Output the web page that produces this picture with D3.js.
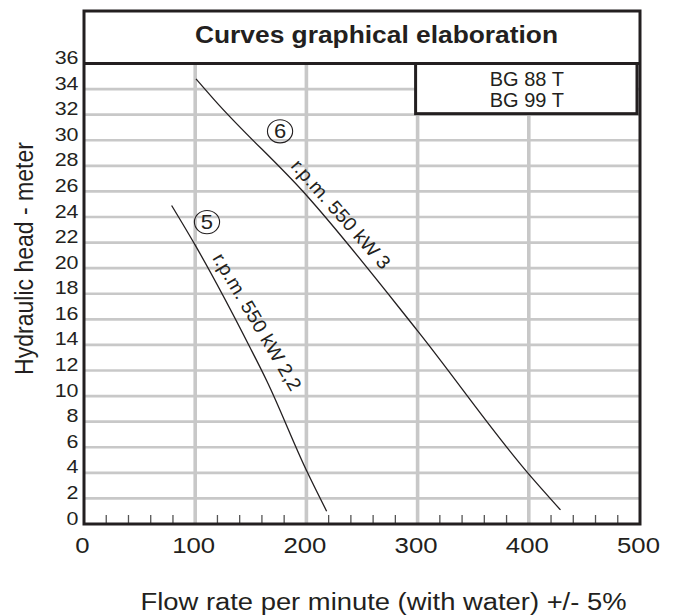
<!DOCTYPE html>
<html>
<head>
<meta charset="utf-8">
<script src="https://cdn.jsdelivr.net/npm/d3@7"></script>
<style>
  html, body { margin: 0; padding: 0; background: #fff; }
  svg { display: block; }
  text { font-family: "Liberation Sans", Arial, Helvetica, sans-serif; fill: #231f20; }
</style>
</head>
<body>
<svg id="chart" width="681" height="616"></svg>
<script>
// ---------- data ----------
const title = "Curves graphical elaboration";
const legendLines = ["BG 88 T", "BG 99 T"];
const xTitle = "Flow rate per minute (with water) +/- 5%";
const yTitle = "Hydraulic head - meter";
const xTicks = [0, 100, 200, 300, 400, 500];
const yTicks = [0, 2, 4, 6, 8, 10, 12, 14, 16, 18, 20, 22, 24, 26, 28, 30, 32, 34, 36];
const minorTicks = [20, 40, 60, 80, 120, 140, 160, 180, 220, 240, 260, 280, 320, 340, 360, 380, 420, 440, 460, 480];
// curve "6": r.p.m. 550 kW 3
const curve6 = [[100.7, 34.8], [117.8, 33.1], [200, 25.7], [300, 15.1], [400, 3.9], [428.5, 1.1]];
// curve "5": r.p.m. 550 kW 2,2
const curve5 = [[78.8, 24.9], [100, 21.8], [149.3, 13.8], [164.3, 11.2], [200, 4.2], [218.2, 1.0]];
const circleLabels = [{ t: "6", x: 176.3, y: 30.7 }, { t: "5", x: 110.6, y: 23.6 }];
const curveLabels = [
  { t: "r.p.m. 550 kW 3", x: 185.3, y: 27.95, angle: 48.5, len: 139 },
  { t: "r.p.m. 550 kW 2,2", x: 115.1, y: 20.8, angle: 59.5, len: 156 }
];

// ---------- layout ----------
const svg = d3.select("#chart");
const frameTop = 11;
const x = d3.scaleLinear().domain([0, 500]).range([84, 640]);
const y = d3.scaleLinear().domain([0, 36]).range([524, 63.5]);
const ink = "#231f20";
const gridColor = "#c8c8c8";

// grid: horizontal
svg.append("g").selectAll("line").data(yTicks.filter(d => d > 0 && d < 36)).join("line")
  .attr("x1", x(0)).attr("x2", x(500))
  .attr("y1", d => y(d)).attr("y2", d => y(d))
  .attr("stroke", gridColor).attr("stroke-width", 2.6);
// grid: vertical
svg.append("g").selectAll("line").data(xTicks.filter(d => d > 0 && d < 500)).join("line")
  .attr("x1", d => x(d)).attr("x2", d => x(d))
  .attr("y1", y(36)).attr("y2", y(0))
  .attr("stroke", gridColor).attr("stroke-width", 3.6);

// minor ticks on x axis
svg.append("g").selectAll("line").data(minorTicks).join("line")
  .attr("x1", d => x(d)).attr("x2", d => x(d))
  .attr("y1", y(0)).attr("y2", y(0) - 9)
  .attr("stroke", "#555").attr("stroke-width", 1.3);

// curves
const line = d3.line().x(d => x(d[0])).y(d => y(d[1])).curve(d3.curveMonotoneX);
[curve6, curve5].forEach(c => {
  svg.append("path").datum(c).attr("d", line)
    .attr("fill", "none").attr("stroke", ink).attr("stroke-width", 1.3);
});

// legend box
svg.append("rect")
  .attr("x", x(300) - 2).attr("y", y(36))
  .attr("width", x(500) - x(300) - 1).attr("height", y(32) - y(36) - 1)
  .attr("fill", "#fff").attr("stroke", ink).attr("stroke-width", 3);
svg.append("g").selectAll("text").data(legendLines).join("text")
  .attr("x", (x(300) + x(500)) / 2 - 2)
  .attr("y", (d, i) => 86 + i * 21.3)
  .attr("text-anchor", "middle")
  .attr("font-size", 20)
  .text(d => d);

// outer frame
svg.append("rect")
  .attr("x", x(0)).attr("y", frameTop)
  .attr("width", x(500) - x(0)).attr("height", y(0) - frameTop)
  .attr("fill", "none").attr("stroke", ink).attr("stroke-width", 3);
// title separator
svg.append("line")
  .attr("x1", x(0)).attr("x2", x(500)).attr("y1", y(36)).attr("y2", y(36))
  .attr("stroke", ink).attr("stroke-width", 3);
// title
svg.append("text")
  .attr("x", 376.5).attr("y", 43.3)
  .attr("text-anchor", "middle")
  .attr("font-size", 23).attr("font-weight", "bold")
  .attr("textLength", 363).attr("lengthAdjust", "spacingAndGlyphs")
  .text(title);

// y tick labels
svg.append("g").selectAll("text").data(yTicks).join("text")
  .attr("transform", d => `translate(78.5,${y(d) + 0.5}) scale(1.16,1)`)
  .attr("text-anchor", "end")
  .attr("font-size", 18.5)
  .text(d => d);

// x tick labels
svg.append("g").selectAll("text").data(xTicks).join("text")
  .attr("transform", d => `translate(${x(d) - 1.5},553.3) scale(1.12,1)`)
  .attr("text-anchor", "middle")
  .attr("font-size", 23)
  .text(d => d);

// axis titles
svg.append("text")
  .attr("x", 383.5).attr("y", 610)
  .attr("text-anchor", "middle")
  .attr("font-size", 23)
  .attr("textLength", 486).attr("lengthAdjust", "spacingAndGlyphs")
  .text(xTitle);
svg.append("text")
  .attr("transform", "translate(33,258.5) scale(1.1,1) rotate(-90)")
  .attr("text-anchor", "middle")
  .attr("font-size", 23)
  .attr("textLength", 233).attr("lengthAdjust", "spacingAndGlyphs")
  .text(yTitle);

// circled curve numbers
const cg = svg.append("g").selectAll("g").data(circleLabels).join("g")
  .attr("transform", d => `translate(${x(d.x)},${y(d.y)})`);
cg.append("ellipse").attr("rx", 12.6).attr("ry", 11.6)
  .attr("fill", "none").attr("stroke", ink).attr("stroke-width", 1.1);
cg.append("text").attr("text-anchor", "middle").attr("y", 7)
  .attr("transform", "scale(1.1,1)")
  .attr("font-size", 20).text(d => d.t);

// rotated curve labels
svg.append("g").selectAll("text").data(curveLabels).join("text")
  .attr("transform", d => `translate(${x(d.x)},${y(d.y)}) rotate(${d.angle})`)
  .attr("font-size", 19)
  .attr("textLength", d => d.len).attr("lengthAdjust", "spacingAndGlyphs")
  .text(d => d.t);
</script>
</body>
</html>
